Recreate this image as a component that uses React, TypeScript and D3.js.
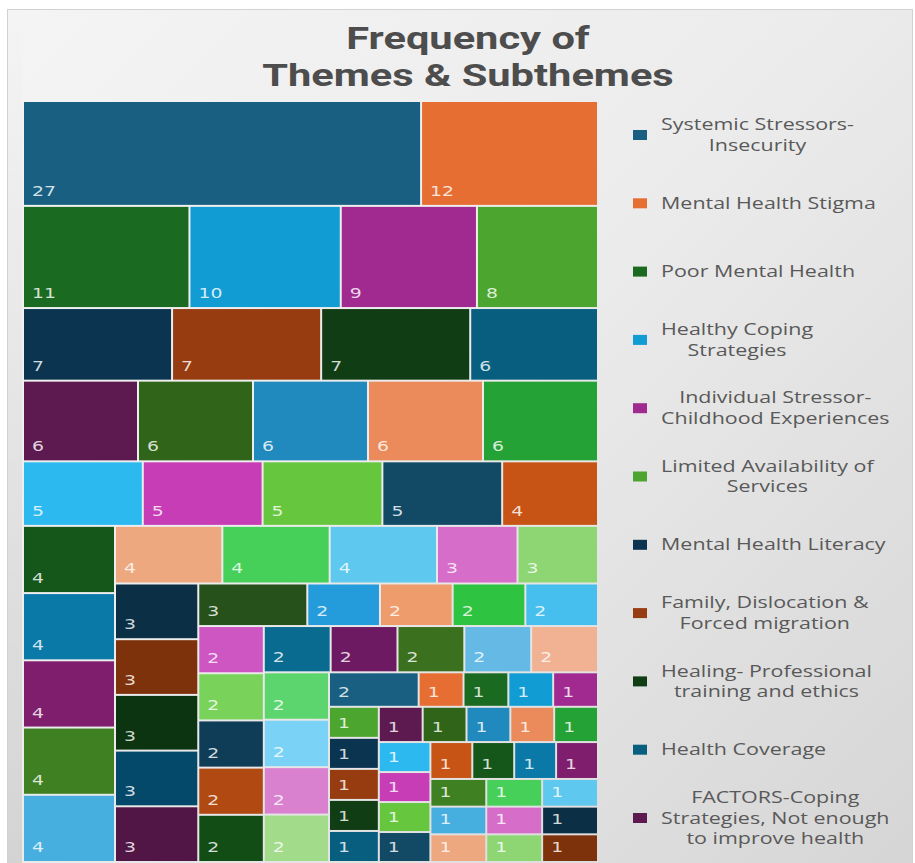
import { useMemo } from "react";
import * as d3 from "d3";

// counts per subtheme, in the order Power BI laid them out (largest first)
const values = [
  27, 12, 11, 10, 9, 8, 7, 7, 7, 6, 6, 6, 6, 6, 6, 5, 5, 5, 5, 4,
  4, 4, 4, 4, 4, 4, 4, 4, 3, 3, 3, 3, 3, 3, 3, 3, 2, 2, 2, 2,
  2, 2, 2, 2, 2, 2, 2, 2, 2, 2, 2, 2, 2, 2, 2, 1, 1, 1, 1, 1,
  1, 1, 1, 1, 1, 1, 1, 1, 1, 1, 1, 1, 1, 1, 1, 1, 1, 1, 1, 1,
  1, 1, 1, 1, 1, 1,
];

// legend entries that are visible (the rest of the legend is scrolled away)
const legendLabels = [
  ["Systemic Stressors-", "Insecurity"],
  ["Mental Health Stigma"],
  ["Poor Mental Health"],
  ["Healthy Coping", "Strategies"],
  ["Individual Stressor-", "Childhood Experiences"],
  ["Limited Availability of", "Services"],
  ["Mental Health Literacy"],
  ["Family, Dislocation &", "Forced migration"],
  ["Healing- Professional", "training and ethics"],
  ["Health Coverage"],
  ["FACTORS-Coping", "Strategies, Not enough", "to improve health"],
];

// report theme colours, used in sequence and repeated
const palette = [
  "#185f82", "#e66e33", "#1b6a22", "#119cd3", "#a02a8f", "#4ca52e",
  "#0b3450", "#963c10", "#113d14", "#075e7f", "#5c1a50", "#306418",
  "#208abe", "#eb8a5a", "#24a236", "#2bb9ef", "#c63db6", "#66c73f",
  "#124a66", "#c75414", "#15561a", "#0b79a7", "#7f1e6d", "#3f8022",
  "#47aee0", "#eea87f", "#46d05a", "#5ec8ef", "#d66dc8", "#8ed674",
  "#0b2f45", "#7e320c", "#0c3410", "#05496a", "#511546", "#27511a",
  "#249cdb", "#ef9c6d", "#2fc342", "#46bfef", "#cd56c3", "#79d35a",
  "#0f3d58", "#b04a12", "#124d16", "#0a6b91", "#6e1a63", "#3b701f",
  "#64bae5", "#f0b293", "#5dd56e", "#7ad3f6", "#d981cf", "#a2db8a",
];

const width = 915;
const height = 863;
const plot = { left: 24, top: 102, width: 573, height: 759 };
const SX = 1.3; // the screenshot is stretched sideways, so is the text
const CELL_ASPECT = 1.5; // Power BI prefers cells wider than tall

// squarify variant: strips judged by the shape of their last (smallest) cell,
// measured against a target aspect of CELL_ASPECT instead of 1
function tileWide(parent: any, x0: number, y0: number, x1: number, y1: number) {
  const nodes = parent.children;
  let value = parent.value;
  let i0 = 0;
  while (i0 < nodes.length) {
    const dx = x1 - x0;
    const dy = y1 - y0;
    const asRow = dx / CELL_ASPECT < dy;
    const score = (sum: number, v: number) => {
      const thick = (sum / value) * (asRow ? dy : dx);
      const along = (v / sum) * (asRow ? dx : dy);
      const w = asRow ? along : thick;
      const h = asRow ? thick : along;
      const a = w / CELL_ASPECT / h;
      return Math.max(a, 1 / a);
    };
    let sum = nodes[i0].value;
    let best = score(sum, sum);
    let i1 = i0 + 1;
    while (i1 < nodes.length) {
      const v = nodes[i1].value;
      const s = score(sum + v, v);
      if (s > best) break;
      best = s;
      sum += v;
      i1++;
    }
    const strip = { value: sum, children: nodes.slice(i0, i1) };
    const last = i1 >= nodes.length;
    if (asRow) {
      const yb = last ? y1 : y0 + (dy * sum) / value;
      d3.treemapDice(strip as any, x0, y0, x1, yb);
      y0 = yb;
    } else {
      const xb = last ? x1 : x0 + (dx * sum) / value;
      d3.treemapSlice(strip as any, x0, y0, xb, y1);
      x0 = xb;
    }
    value -= sum;
    i0 = i1;
  }
}

let ctx: CanvasRenderingContext2D | null = null;
const textWidth = (text: string, font: string) => {
  if (!ctx) ctx = document.createElement("canvas").getContext("2d");
  ctx!.font = font;
  return ctx!.measureText(text).width;
};

const legendFont = "16.5px 'Open Sans'";

const App = () => {
  const leaves = useMemo(() => {
    const data = { children: values.map((v, i) => ({ id: i, value: v })) };
    const root = d3
      .hierarchy<any>(data)
      .sum((d) => d.value || 0)
      .sort((a, b) => (b.value ?? 0) - (a.value ?? 0));
    d3.treemap<any>().tile(tileWide).size([plot.width, plot.height]).paddingInner(2)(root);
    return root.leaves() as d3.HierarchyRectangularNode<any>[];
  }, []);

  const legendY = d3.scaleLinear([0, legendLabels.length - 1], [135, 818]);
  const legendLeft = 661;
  const lineH = 20.5;

  return (
    <svg
      width={width}
      height={height}
      style={{ position: "absolute", left: 0, top: 0, display: "block" }}
    >
      <defs>
        <linearGradient id='panelBg' x1='0' y1='0' x2='1' y2='1'>
          <stop offset='0' stopColor='#f4f4f4' />
          <stop offset='0.45' stopColor='#ececec' />
          <stop offset='1' stopColor='#d5d5d5' />
        </linearGradient>
        <linearGradient id='leftShade' x1='0' y1='0' x2='0' y2='1'>
          <stop offset='0' stopColor='#000' stopOpacity='0' />
          <stop offset='1' stopColor='#000' stopOpacity='0.1' />
        </linearGradient>
      </defs>
      <rect width={width} height={height} fill='#fff' />
      <rect
        x={7.5}
        y={9.5}
        width={905}
        height={880}
        fill='url(#panelBg)'
        stroke='#d2d2d2'
      />
      <rect x={8} y={10} width={14} height={860} fill='url(#leftShade)' />

      <g fill='#4d4d4d' fontFamily='Roboto' fontWeight={700} fontSize={32} textAnchor='middle'>
        <text transform={`translate(468,49) scale(${SX},1)`}>Frequency of</text>
        <text transform={`translate(468,86) scale(${SX},1)`}>Themes &amp; Subthemes</text>
      </g>

      <g transform={`translate(${plot.left},${plot.top})`}>
        {leaves.map((d) => (
          <g key={d.data.id}>
            <rect
              x={d.x0}
              y={d.y0}
              width={d.x1 - d.x0}
              height={d.y1 - d.y0}
              fill={palette[d.data.id % palette.length]}
            />
            <text
              transform={`translate(${d.x0 + 8},${d.y1 - 9}) scale(${SX},1)`}
              fill='#fff'
              fillOpacity={0.82}
              fontFamily='DejaVu Sans'
              fontSize={14.5}
            >
              {d.value}
            </text>
          </g>
        ))}
      </g>

      <g fill='#595959' fontFamily='Open Sans' fontSize={16.5}>
        {legendLabels.map((lines, i) => {
          const cy = legendY(i);
          const maxW = d3.max(lines, (l) => textWidth(l, legendFont)) ?? 0;
          const cx = legendLeft + (maxW * SX) / 2;
          const first = cy - ((lines.length - 1) * lineH) / 2 + 5.5;
          return (
            <g key={i}>
              <rect x={633} y={cy - 5} width={14} height={10} fill={palette[i]} />
              {lines.map((l, j) => (
                <text
                  key={j}
                  textAnchor='middle'
                  transform={`translate(${cx},${first + j * lineH}) scale(${SX},1)`}
                >
                  {l}
                </text>
              ))}
            </g>
          );
        })}
      </g>
    </svg>
  );
};

export default App;
